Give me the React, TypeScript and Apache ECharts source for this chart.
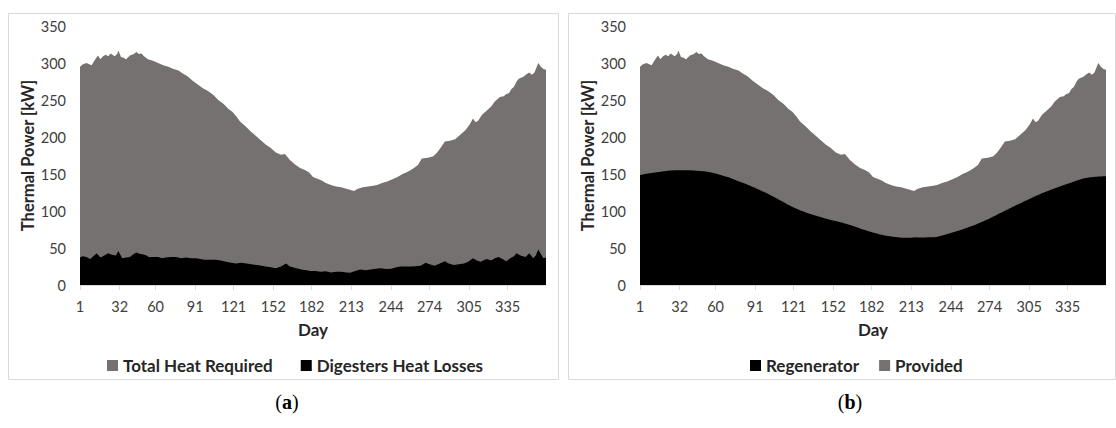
import React, { useEffect, useRef } from "react";
import * as echarts from "echarts";

const monthStartDays = [1, 32, 60, 91, 121, 152, 182, 213, 244, 274, 305, 335];
const yTicks = { min: 0, max: 350, interval: 50 };

const panelLetters = ["a", "b"];
const legendA = ["Total Heat Required", "Digesters Heat Losses"];
const legendB = ["Regenerator", "Provided"];

// [day, kW]
const totalHeatRequired: [number, number][] = [
  [1, 295], [3, 298], [6, 300], [10, 297], [13, 305], [15, 310], [17, 305], [19, 309],
  [21, 311], [23, 309], [25, 313], [28, 309], [30, 312], [31, 317], [33, 308], [35, 307],
  [37, 305], [40, 310], [43, 312], [45, 315], [47, 312], [49, 313], [51, 309], [54, 305],
  [58, 303], [62, 300], [66, 297], [70, 295], [74, 292], [78, 290], [81, 286], [85, 282],
  [89, 276], [93, 271], [97, 266], [101, 262], [105, 257], [109, 250], [113, 245], [117, 238],
  [120, 234], [123, 228], [126, 221], [130, 215], [134, 208], [138, 202], [142, 196], [146, 190],
  [150, 185], [154, 179], [158, 176], [161, 177], [163, 173], [165, 169], [169, 163], [173, 158],
  [177, 155], [180, 152], [183, 146], [186, 144], [189, 142], [193, 138], [197, 135], [201, 133],
  [205, 132], [209, 130], [213, 128], [215, 127], [218, 130], [222, 132], [226, 133], [230, 134],
  [233, 135], [237, 138], [241, 140], [245, 143], [249, 146], [253, 150], [257, 153], [261, 157],
  [265, 162], [268, 171], [273, 172], [277, 174], [280, 179], [283, 186], [286, 194], [290, 195],
  [294, 197], [298, 203], [302, 209], [305, 216], [308, 225], [310, 220], [312, 222], [315, 230],
  [319, 236], [322, 241], [325, 248], [327, 251], [329, 254], [332, 255], [334, 258], [336, 259],
  [338, 265], [340, 268], [342, 275], [344, 279], [347, 281], [350, 285], [352, 287], [354, 284],
  [356, 287], [359, 300], [361, 295], [363, 292], [365, 291],
];

const digestersHeatLosses: [number, number][] = [
  [1, 37], [3, 39], [6, 38], [9, 35], [12, 40], [14, 43], [17, 37], [20, 40],
  [23, 43], [26, 41], [29, 40], [31, 46], [34, 36], [37, 37], [40, 38], [43, 42],
  [45, 44], [48, 42], [50, 41.5], [53, 40], [55, 37.4], [58, 38], [62, 38], [65, 36],
  [68, 37], [72, 38], [76, 38], [80, 36], [84, 37], [88, 36], [92, 36], [95, 35],
  [98, 34], [102, 34], [107, 34], [111, 33], [115, 31.5], [119, 30], [123, 29], [127, 30],
  [131, 29], [135, 28], [139, 27], [143, 26], [146, 25], [150, 24], [154, 22.5], [158, 25],
  [162, 29], [165, 25], [170, 22.5], [174, 21], [178, 20], [181, 19], [185, 19], [189, 18],
  [193, 18.5], [197, 17], [201, 18], [205, 18], [209, 17], [212, 16.6], [216, 19], [220, 21],
  [224, 20], [228, 21], [232, 22], [236, 22.5], [240, 21.6], [244, 22], [248, 24], [251, 25],
  [255, 25], [259, 25], [263, 25.5], [267, 26], [271, 30], [274, 28], [278, 26], [282, 29],
  [286, 32], [289, 29], [293, 27], [297, 28], [301, 29], [304, 31], [308, 36], [311, 33],
  [314, 31.5], [317, 34], [319, 35], [322, 33], [325, 36], [328, 38], [331, 35], [334, 32],
  [337, 36], [340, 39], [342, 43], [345, 40], [349, 38], [352, 43], [355, 36], [357, 40],
  [359, 48], [361, 42], [363, 36], [365, 37],
];

const regenerator: [number, number][] = [
  [1, 148.6], [17, 153], [32, 155], [48, 154], [64, 148.6], [79, 139.6], [95, 128], [110, 115],
  [126, 101], [142, 92], [157, 85], [165, 81], [181, 72], [196, 66], [212, 64], [228, 64.5],
  [243, 70], [259, 79], [274, 90], [290, 103.6], [306, 117], [321, 128], [337, 138], [353, 145.5],
  [365, 147],
];

// the grey "Provided" area reaches up to the total heat required
const providedTop = totalHeatRequired;

const GREY = "#767171";
const BLACK = "#000000";
const FONT = "Lato";
const TEXT = "#262626";

function makeX(gridIndex: number) {
  return {
    type: "value",
    gridIndex,
    min: 1,
    max: 365,
    name: "Day",
    nameLocation: "middle",
    nameGap: 36,
    nameTextStyle: { fontFamily: FONT, fontWeight: "bold", fontSize: 17, color: TEXT },
    axisLine: { show: true, lineStyle: { color: "#D9D9D9", width: 1 } },
    axisTick: { show: true, length: 5, lineStyle: { color: "#D9D9D9" }, customValues: monthStartDays },
    axisLabel: { customValues: monthStartDays, fontFamily: FONT, fontSize: 14.5, color: "#404040", margin: 14 },
    splitLine: { show: false },
  };
}

function makeY(gridIndex: number) {
  return {
    type: "value",
    gridIndex,
    ...yTicks,
    name: "Thermal Power [kW]",
    nameLocation: "middle",
    nameGap: 40,
    nameTextStyle: { fontFamily: FONT, fontWeight: "bold", fontSize: 16.5, color: TEXT },
    axisLine: { show: false },
    axisTick: { show: false },
    axisLabel: { fontFamily: FONT, fontSize: 14.5, color: "#404040", margin: 14 },
    splitLine: { show: false },
  };
}

function area(name: string, data: [number, number][], idx: number, color: string, smooth = false) {
  return {
    type: "line",
    name,
    xAxisIndex: idx,
    yAxisIndex: idx,
    data,
    smooth,
    showSymbol: false,
    symbol: "none",
    silent: true,
    lineStyle: { width: 0, color },
    itemStyle: { color },
    areaStyle: { color, opacity: 1 },
  };
}

const legendStyle = { fontFamily: FONT, fontWeight: "bold", fontSize: 17, color: TEXT };

export default function App() {
  const ref = useRef<HTMLDivElement>(null);
  useEffect(() => {
    if (!ref.current) return;
    const chart = echarts.init(ref.current, null, { renderer: "svg" });
    chart.setOption({
      animation: false,
      backgroundColor: "#ffffff",
      grid: [
        { left: 80, top: 26, width: 466, height: 259 },
        { left: 640, top: 26, width: 466, height: 259 },
      ],
      xAxis: [makeX(0), makeX(1)],
      yAxis: [makeY(0), makeY(1)],
      legend: [
        {
          data: legendA, left: 102, top: 352, itemWidth: 11, itemHeight: 11, itemGap: 28,
          icon: "rect", textStyle: legendStyle, selectedMode: false,
        },
        {
          data: legendB, left: 745, top: 352, itemWidth: 11, itemHeight: 11, itemGap: 20,
          icon: "rect", textStyle: legendStyle, selectedMode: false,
        },
      ],
      series: [
        area(legendA[0], totalHeatRequired, 0, GREY),
        area(legendA[1], digestersHeatLosses, 0, BLACK),
        area(legendB[1], providedTop, 1, GREY),
        area(legendB[0], regenerator, 1, BLACK, true),
      ],
      graphic: [
        { type: "rect", shape: { x: 8.5, y: 13.5, width: 550, height: 366 }, style: { fill: "none", stroke: "#D9D9D9", lineWidth: 1 }, silent: true },
        { type: "rect", shape: { x: 568.5, y: 13.5, width: 547, height: 366 }, style: { fill: "none", stroke: "#D9D9D9", lineWidth: 1 }, silent: true },
        ...panelLetters.map((l, i) => ({
          type: "text",
          x: i === 0 ? 287 : 850,
          y: 402,
          silent: true,
          style: {
            text: "({b|" + l + "})",
            fontFamily: "Liberation Serif",
            fontSize: 20,
            fill: "#000",
            align: "center",
            verticalAlign: "middle",
            rich: { b: { fontFamily: "Liberation Serif", fontSize: 20, fontWeight: "bold", fill: "#000" } },
          },
        })),
      ],
    });
    return () => chart.dispose();
  }, []);
  return (
    <div
      ref={ref}
      style={{ position: "fixed", left: 0, top: 0, width: 1116, height: 428, background: "#fff" }}
    />
  );
}
